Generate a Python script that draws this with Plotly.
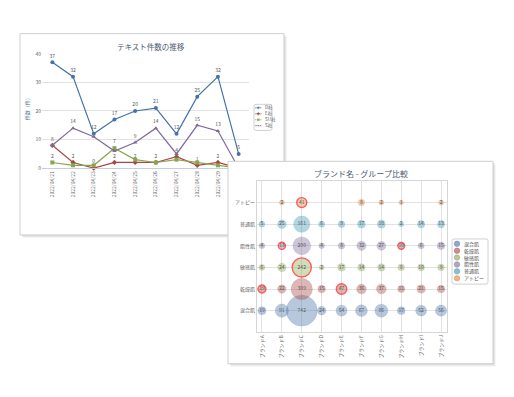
import math
import plotly.graph_objects as go

W, H = 514, 397
OFF = 8  # page body margin offset
FONT = "Noto Sans CJK JP, Noto Sans, sans-serif"

# ---------------- data: line chart ----------------
dates = ["2022/04/21", "2022/04/22", "2022/04/23", "2022/04/24", "2022/04/25",
         "2022/04/26", "2022/04/27", "2022/04/28", "2022/04/29", "2022/04/30"]
line_names = ["D社", "E社", "SU社", "S社"]
d_vals = [37, 32, 12, 17, 20, 21, 12, 25, 32, 5]
e_vals = [8, 2, 0, 2, 2, 2, 4, 1, 2, 0]
su_vals = [2, 1, 1, 7, 3, 2, 3, 2, 1, 0]
s_vals = [8, 14, 11, 6, 9, 14, 5, 15, 13, 0]

# ---------------- data: bubble chart ----------------
brands = ["ブランドA", "ブランドB", "ブランドC", "ブランドD", "ブランドE",
          "ブランドF", "ブランドG", "ブランドH", "ブランドI", "ブランドJ"]
skin_types = ["混合肌", "乾燥肌", "敏感肌", "脂性肌", "普通肌", "アトピー"]
mixed = [19, 91, 742, 24, 54, 67, 86, 17, 52, 56]
dry = [19, 22, 309, 15, 47, 36, 37, 11, 21, 15]
sensitive = [6, 24, 242, 2, 17, 14, 14, 9, 10, 9]
oily = [4, 13, 200, 4, 8, 32, 27, 10, 6, 15]
normal = [5, 25, 161, 6, 9, 17, 18, 2, 14, 13]
atopy = [None, 2, 41, None, None, 8, 2, 1, None, 2]
highlights = {"乾燥肌": [0, 4], "敏感肌": [2], "脂性肌": [1, 7], "アトピー": [2]}

# ---------------- styling ----------------
line_colors = ["#4572A7", "#AA4643", "#89A54E", "#80699B"]
line_symbols = ["circle", "diamond", "square", "triangle-up"]
bubble_rgb = [(69, 114, 167), (170, 70, 67), (137, 165, 78),
              (128, 105, 155), (61, 150, 174), (219, 132, 61)]


def px(x):
    return (x - OFF) / W


def py(y):
    return 1 - (y - OFF) / H


fig = go.Figure()

# ---------- line chart (subplot xy) ----------
all_series = [d_vals, e_vals, su_vals, s_vals]
shown = [[] for _ in dates]  # values already labelled at each date
last = len(dates) - 1
for name, vals, col, sym in zip(line_names, all_series, line_colors, line_symbols):
    labels = []
    for i, v in enumerate(vals):
        if any(abs(v - u) < 1.5 for u in shown[i]) or (i == last and v == 0):
            labels.append("")
        else:
            labels.append(str(v))
            shown[i].append(v)
    fig.add_trace(go.Scatter(
        x=dates, y=vals, name=name, mode="lines+markers+text",
        text=labels, textposition="top center",
        textfont=dict(size=5, color="#555"),
        line=dict(color=col, width=1.2),
        marker=dict(color=col, symbol=sym, size=4),
        cliponaxis=False, showlegend=False, xaxis="x", yaxis="y"))

# ---------- panel 2 background (subplot x2y2, pixel space) ----------
P2 = (228, 160, 493, 366)
for off, a in [(3, 0.04), (2, 0.05), (1, 0.06)]:
    x0, y0, x1, y1 = P2[0] + off, P2[1] + off, P2[2] + off, P2[3] + off
    fig.add_trace(go.Scatter(
        x=[x0, x1, x1, x0, x0], y=[y0, y0, y1, y1, y0], mode="lines",
        fill="toself", fillcolor=f"rgba(0,0,0,{a})", line=dict(width=0),
        hoverinfo="skip", showlegend=False, xaxis="x2", yaxis="y2"))
x0, y0, x1, y1 = P2
fig.add_trace(go.Scatter(
    x=[x0, x1, x1, x0, x0], y=[y0, y0, y1, y1, y0], mode="lines",
    fill="toself", fillcolor="white", line=dict(color="#cfcfcf", width=1),
    hoverinfo="skip", showlegend=False, xaxis="x2", yaxis="y2"))

# custom legend 1 (line chart)
leg1_y = [105.5, 111.6, 117.7, 123.8]
for name, col, sym, yy in zip(line_names, line_colors, line_symbols, leg1_y):
    fig.add_trace(go.Scatter(
        x=[255.3, 258.3, 261.3], y=[yy, yy, yy], mode="lines+markers",
        line=dict(color=col, width=1), marker=dict(color=col, symbol=sym, size=[0, 3.5, 0]),
        hoverinfo="skip", showlegend=False, xaxis="x2", yaxis="y2"))
    fig.add_annotation(x=px(262.5), y=py(yy), xref="paper", yref="paper", text=name,
                       showarrow=False, xanchor="left", yanchor="middle",
                       font=dict(size=4.5, color="#555", family=FONT))

# custom legend 2 (bubble chart)
leg2_y = [244, 251, 258, 265, 272, 279]
for name, rgb, yy in zip(skin_types, bubble_rgb, leg2_y):
    r, g, b = rgb
    fig.add_trace(go.Scatter(
        x=[457], y=[yy], mode="markers",
        marker=dict(color=f"rgba({r},{g},{b},0.6)", size=5.5,
                    line=dict(color=f"rgba({r},{g},{b},0.8)", width=0.5)),
        hoverinfo="skip", showlegend=False, xaxis="x2", yaxis="y2"))
    fig.add_annotation(x=px(462), y=py(yy), xref="paper", yref="paper", text=name,
                       showarrow=False, xanchor="left", yanchor="middle",
                       font=dict(size=5, color="#555", family=FONT))

# ---------- bubble chart (subplot x3y3) ----------
for name, vals, rgb in zip(skin_types, [mixed, dry, sensitive, oily, normal, atopy], bubble_rgb):
    r, g, b = rgb
    xs, ys, sizes, texts, lcols, lws = [], [], [], [], [], []
    for i, v in enumerate(vals):
        if v is None:
            continue
        xs.append(brands[i])
        ys.append(name)
        sizes.append(3.6 + math.sqrt(v))
        texts.append(str(v))
        if i in highlights.get(name, []):
            lcols.append("#ff1a1a")
            lws.append(1.4)
        else:
            lcols.append(f"rgba({r},{g},{b},0.55)")
            lws.append(0.5)
    fig.add_trace(go.Scatter(
        x=xs, y=ys, mode="markers+text", text=texts, textposition="middle center",
        textfont=dict(size=5, color="#555"),
        marker=dict(size=sizes, sizemode="diameter", color=f"rgba({r},{g},{b},0.55)",
                    line=dict(color=lcols, width=lws)),
        cliponaxis=False, showlegend=False, xaxis="x3", yaxis="y3"))

# ---------- panel 1 frame (below everything) ----------
P1 = (20, 30, 284, 235)
shapes = []
for off, a in [(3, 0.04), (2, 0.05), (1, 0.06)]:
    shapes.append(dict(type="rect", xref="paper", yref="paper", layer="below",
                       x0=px(P1[0] + off), x1=px(P1[2] + off),
                       y0=py(P1[3] + off), y1=py(P1[1] + off),
                       fillcolor=f"rgba(0,0,0,{a})", line=dict(width=0)))
shapes.append(dict(type="rect", xref="paper", yref="paper", layer="below",
                   x0=px(P1[0]), x1=px(P1[2]), y0=py(P1[3]), y1=py(P1[1]),
                   fillcolor="white", line=dict(color="#cfcfcf", width=1)))


def rounded_box(x0, y0, x1, y1, r):
    X0, X1 = px(x0), px(x1)
    Y0, Y1 = py(y0), py(y1)
    rx, ry = r / W, r / H
    return (f"M{X0 + rx},{Y0} L{X1 - rx},{Y0} Q{X1},{Y0} {X1},{Y0 - ry} "
            f"L{X1},{Y1 + ry} Q{X1},{Y1} {X1 - rx},{Y1} L{X0 + rx},{Y1} "
            f"Q{X0},{Y1} {X0},{Y1 + ry} L{X0},{Y0 - ry} Q{X0},{Y0} {X0 + rx},{Y0} Z")


shapes.append(dict(type="path", xref="paper", yref="paper", layer="above",
                   path=rounded_box(254, 102, 272, 128.5, 2),
                   line=dict(color="#c4c4c4", width=0.8)))
shapes.append(dict(type="path", xref="paper", yref="paper", layer="above",
                   path=rounded_box(452, 239, 488, 285, 2),
                   line=dict(color="#c4c4c4", width=0.8)))

# titles
fig.add_annotation(x=px(151), y=py(43), xref="paper", yref="paper",
                   text="テキスト件数の推移", showarrow=False,
                   xanchor="center", yanchor="middle",
                   font=dict(size=7.5, color="#4a5a6e", family=FONT))
fig.add_annotation(x=px(361), y=py(172.5), xref="paper", yref="paper",
                   text="ブランド名 - グループ比較", showarrow=False,
                   xanchor="center", yanchor="middle",
                   font=dict(size=8, color="#4a5a6e", family=FONT))
fig.add_annotation(x=px(27), y=py(106), xref="paper", yref="paper",
                   text="件数（件）", showarrow=False, textangle=-90,
                   xanchor="center", yanchor="middle",
                   font=dict(size=5, color="#4d759e", family=FONT))

tickfont = dict(size=5, color="#666", family=FONT)
fig.update_layout(
    width=W, height=H, margin=dict(l=0, r=0, t=0, b=0),
    paper_bgcolor="white", plot_bgcolor="rgba(0,0,0,0)",
    font=dict(family=FONT), showlegend=False, shapes=shapes,
    xaxis=dict(domain=[px(42), px(249)], anchor="y", type="category",
               range=[-0.5, 9.5], showgrid=False, showline=True, linecolor="#C0D0E0",
               tickangle=-90, tickfont=tickfont, ticks="", zeroline=False),
    yaxis=dict(domain=[py(167), py(50.5)], anchor="x", range=[0, 40], dtick=10,
               showgrid=True, gridcolor="#e2e2e2", gridwidth=0.8, zeroline=False,
               showline=False, tickfont=tickfont, ticks=""),
    xaxis2=dict(domain=[0, 1], anchor="y2", range=[OFF, W + OFF], visible=False),
    yaxis2=dict(domain=[0, 1], anchor="x2", range=[H + OFF, OFF], visible=False),
    xaxis3=dict(domain=[px(257), px(447)], anchor="y3", type="category",
                categoryorder="array", categoryarray=brands, range=[-0.25, 9.3],
                showgrid=True, gridcolor="#e2e2e2", gridwidth=0.8,
                showline=True, mirror=True, linecolor="#d6d6d6", linewidth=0.8,
                tickangle=-90, tickfont=tickfont, ticks="", zeroline=False),
    yaxis3=dict(domain=[py(334), py(180)], anchor="x3", type="category",
                categoryorder="array", categoryarray=skin_types, range=[-1, 6],
                showgrid=True, gridcolor="#e2e2e2", gridwidth=0.8,
                showline=True, mirror=True, linecolor="#d6d6d6", linewidth=0.8,
                tickfont=dict(size=5, color="#666", family=FONT), ticks="", zeroline=False),
)

fig.write_html("out.html")
